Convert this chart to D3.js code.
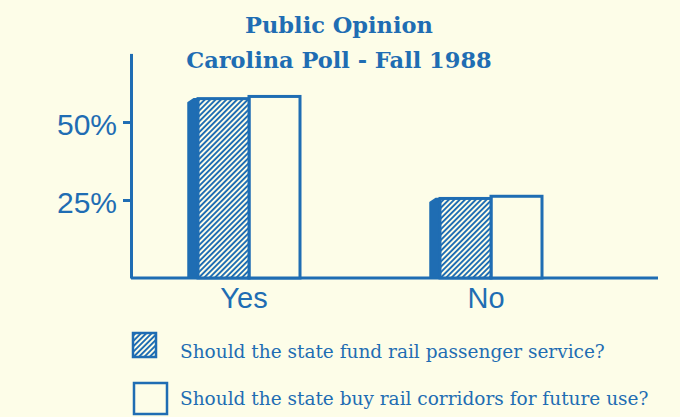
<!DOCTYPE html>
<html><head><meta charset="utf-8">
<script src="https://cdn.jsdelivr.net/npm/d3@7"></script>
<style>body{margin:0;background:#fdfde8}svg{display:block}</style></head>
<body>
<svg id="c" width="680" height="417"></svg>
<script>
const categories = ["Yes", "No"];
const seriesNames = ["Should the state fund rail passenger service?", "Should the state buy rail corridors for future use?"];
const fundValues = [57.5, 25.5];
const buyValues = [58.2, 26.2];
const tickValues = [25, 50];
const titleLines = ["Public Opinion", "Carolina Poll - Fall 1988"];

const BLUE = "#1f6db3";
const BG = "#fdfde8";
const svg = d3.select("#c");
svg.append("rect").attr("width", 680).attr("height", 417).attr("fill", BG);

const defs = svg.append("defs");
const pat = defs.append("pattern").attr("id", "hatch").attr("patternUnits", "userSpaceOnUse")
  .attr("width", 8).attr("height", 3.8).attr("patternTransform", "rotate(-45)");
pat.append("rect").attr("width", 8).attr("height", 3.8).attr("fill", BG);
pat.append("rect").attr("width", 8).attr("height", 1.9).attr("fill", BLUE);

const y = d3.scaleLinear().domain([0, 72]).range([278, 53.4]);
const x = d3.scaleBand().domain(categories).range([123, 607]).paddingInner(0).paddingOuter(0);
const sub = d3.scaleBand().domain([0, 1]).range([-46, 56]);

// title
svg.append("g").selectAll("text").data(titleLines).join("text")
  .attr("x", 339).attr("y", (d, i) => 33 + i * 35)
  .attr("text-anchor", "middle")
  .attr("font-family", "DejaVu Serif").attr("font-weight", "bold").attr("font-size", 22.5)
  .attr("fill", BLUE).text(d => d);

// y axis
const yAxis = svg.append("g").attr("transform", "translate(131,0)")
  .call(d3.axisLeft(y).tickValues(tickValues).tickSize(8).tickSizeOuter(0).tickPadding(6).tickFormat(d => d + "%"));
yAxis.select(".domain").attr("stroke", BLUE).attr("stroke-width", 3);
yAxis.selectAll(".tick line").attr("stroke", BLUE).attr("stroke-width", 3);
yAxis.selectAll(".tick text").attr("fill", BLUE).attr("font-family", "Liberation Sans")
  .attr("font-size", 30).attr("dy", "0.4em");

// baseline
svg.append("line").attr("x1", 131).attr("x2", 658).attr("y1", y(0)).attr("y2", y(0))
  .attr("stroke", BLUE).attr("stroke-width", 3);

// x axis labels
const xAxis = svg.append("g").attr("transform", `translate(0,${y(0)})`)
  .call(d3.axisBottom(x).tickSize(0).tickPadding(9));
xAxis.select(".domain").remove();
xAxis.selectAll(".tick text").attr("fill", BLUE).attr("font-family", "Liberation Sans")
  .attr("font-size", 29).attr("dy", "0.71em");

// bars
const groups = svg.append("g").selectAll("g").data(categories).join("g")
  .attr("transform", d => `translate(${x(d) + x.bandwidth() / 2},0)`);

// 3D side strip for hatched bar
groups.append("path")
  .attr("d", (d, i) => {
    const x0 = sub(0), top = y(fundValues[i]);
    return `M${x0 - 10},${y(0)} L${x0 - 10},${top + 4} L${x0 - 4},${top} L${x0},${top} L${x0},${y(0)} Z`;
  })
  .attr("fill", BLUE).attr("stroke", BLUE).attr("stroke-width", 1.5).attr("stroke-linejoin", "round");

groups.append("rect")
  .attr("x", sub(1)).attr("width", sub.bandwidth())
  .attr("y", (d, i) => y(buyValues[i])).attr("height", (d, i) => y(0) - y(buyValues[i]))
  .attr("fill", BG).attr("stroke", BLUE).attr("stroke-width", 3);

groups.append("rect")
  .attr("x", sub(0)).attr("width", sub.bandwidth())
  .attr("y", (d, i) => y(fundValues[i])).attr("height", (d, i) => y(0) - y(fundValues[i]))
  .attr("fill", "url(#hatch)").attr("stroke", BLUE).attr("stroke-width", 3);

// legend
const legend = svg.append("g");
const boxes = [{x: 133, y: 333, w: 23, h: 24, fill: "url(#hatch)"}, {x: 134, y: 383, w: 33, h: 31, fill: BG}];
legend.selectAll("rect").data(seriesNames).join("rect")
  .attr("x", (d, i) => boxes[i].x).attr("y", (d, i) => boxes[i].y)
  .attr("width", (d, i) => boxes[i].w).attr("height", (d, i) => boxes[i].h)
  .attr("fill", (d, i) => boxes[i].fill).attr("stroke", BLUE).attr("stroke-width", 2.5);
legend.selectAll("text").data(seriesNames).join("text")
  .attr("x", 180).attr("y", (d, i) => 358 + i * 47)
  .attr("font-family", "DejaVu Serif").attr("font-size", 18.5)
  .attr("fill", BLUE).text(d => d);
</script>
</body></html>
